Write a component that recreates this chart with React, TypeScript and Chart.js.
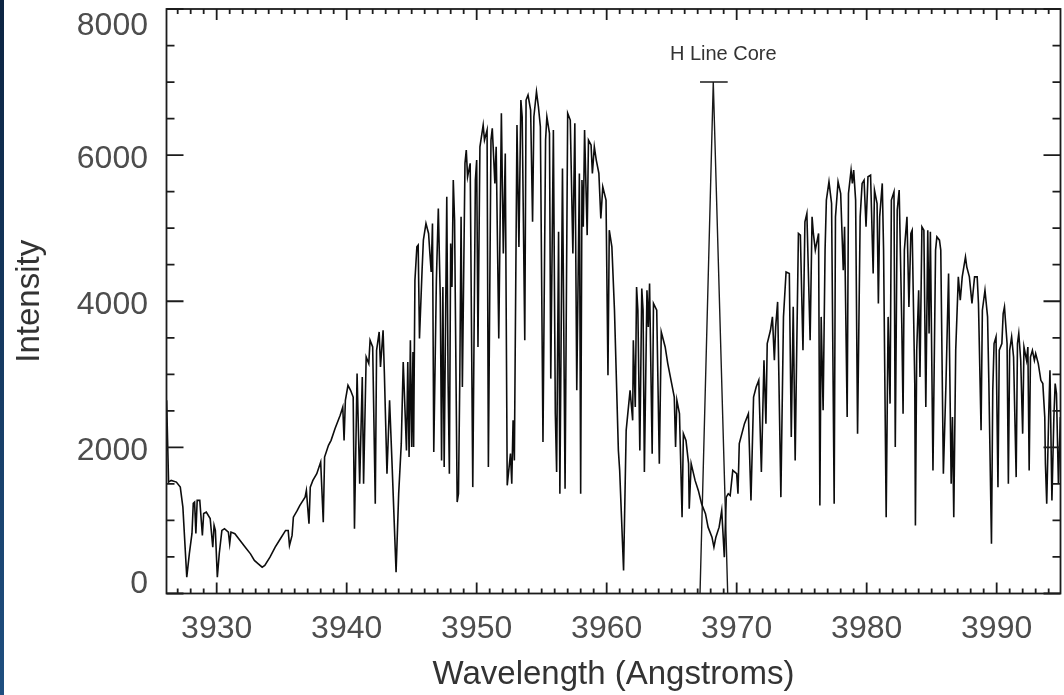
import React, { useEffect, useRef } from "react";
import { Chart, registerables } from "chart.js";

Chart.register(...registerables);

// Wavelength samples (Angstroms)
const wavelength: number[] = [
  3926.15, 3926.3, 3926.5, 3926.9, 3927.2, 3927.4, 3927.7, 3927.9, 3928.1, 3928.2,
  3928.3, 3928.4, 3928.5, 3928.7, 3928.9, 3929.0, 3929.2, 3929.5, 3929.7, 3929.8,
  3929.9, 3930.05, 3930.2, 3930.4, 3930.6, 3930.9, 3931.0, 3931.1, 3931.4, 3931.8,
  3932.2, 3932.6, 3932.9, 3933.2, 3933.5, 3933.7, 3934.1, 3934.5, 3934.9, 3935.3,
  3935.5, 3935.6, 3935.8, 3935.9, 3936.2, 3936.4, 3936.8, 3936.9, 3937.1, 3937.2,
  3937.4, 3937.7, 3938.0, 3938.2, 3938.3, 3938.6, 3938.8, 3939.1, 3939.5, 3939.7,
  3939.8, 3939.9, 3940.1, 3940.3, 3940.5, 3940.6, 3940.8, 3941.0, 3941.2, 3941.3,
  3941.5, 3941.7, 3941.8, 3942.0, 3942.2, 3942.3, 3942.5, 3942.6, 3942.8, 3942.9,
  3943.1, 3943.3, 3943.5, 3943.8, 3944.0, 3944.2,
  3944.35, 3944.6, 3944.7, 3944.8, 3944.9, 3945.0, 3945.1, 3945.15, 3945.25, 3945.4,
  3945.5, 3945.6, 3945.8, 3945.9, 3946.1, 3946.3, 3946.4, 3946.5, 3946.6, 3946.7,
  3946.9, 3947.05, 3947.2, 3947.3, 3947.4, 3947.5, 3947.7, 3947.8, 3947.9, 3948.0,
  3948.1, 3948.2, 3948.3, 3948.5, 3948.6, 3948.7, 3948.8, 3948.9, 3949.1, 3949.2,
  3949.3, 3949.5, 3949.7, 3949.9, 3950.0, 3950.1, 3950.25, 3950.5, 3950.6, 3950.8,
  3950.9, 3951.1, 3951.2, 3951.4, 3951.5, 3951.7, 3951.9, 3952.05, 3952.2, 3952.35,
  3952.6, 3952.7, 3952.8, 3952.9, 3953.1, 3953.25, 3953.4, 3953.5, 3953.7, 3953.8,
  3953.95, 3954.15, 3954.3, 3954.4, 3954.6, 3954.75, 3954.9, 3955.1, 3955.3, 3955.4,
  3955.6, 3955.7, 3955.9, 3956.05, 3956.15, 3956.3, 3956.4, 3956.6, 3956.8, 3957.0,
  3957.2, 3957.4, 3957.55, 3957.7, 3957.9, 3958.0, 3958.1, 3958.2, 3958.3, 3958.5,
  3958.6, 3958.8, 3958.9, 3959.05, 3959.2, 3959.4, 3959.55, 3959.7, 3959.95, 3960.1,
  3960.2, 3960.4,
  3960.6, 3960.9, 3961.0, 3961.3, 3961.5, 3961.8, 3962.0, 3962.05, 3962.2, 3962.3,
  3962.4, 3962.55, 3962.7, 3962.8, 3962.9, 3963.1, 3963.2, 3963.3, 3963.5, 3963.6,
  3963.85, 3964.05, 3964.2, 3964.5, 3964.7, 3965.0, 3965.2, 3965.3, 3965.4, 3965.6,
  3965.8, 3965.9, 3966.1, 3966.3, 3966.35, 3966.5, 3966.8, 3967.05, 3967.3, 3967.6,
  3967.8, 3968.1, 3968.25, 3968.4, 3968.65, 3968.85, 3969.05, 3969.2, 3969.35,
  3969.5, 3969.7, 3970.0, 3970.1, 3970.2, 3970.6, 3970.9, 3971.1, 3971.3, 3971.5,
  3971.7, 3971.9, 3972.1, 3972.25, 3972.35, 3972.6, 3972.75, 3972.9, 3973.0, 3973.15,
  3973.4, 3973.6, 3973.8, 3974.05, 3974.2, 3974.35, 3974.5, 3974.6, 3974.75, 3974.9,
  3975.1, 3975.25, 3975.4, 3975.65, 3975.8, 3975.9, 3976.05, 3976.3, 3976.4, 3976.5,
  3976.65, 3976.8, 3976.9, 3977.1, 3977.3, 3977.5, 3977.6, 3977.8, 3978.0, 3978.2,
  3978.3, 3978.5, 3978.6, 3978.8, 3978.9, 3979.0, 3979.15, 3979.3, 3979.5, 3979.65,
  3979.8, 3979.95, 3980.1, 3980.3, 3980.5, 3980.6, 3980.8, 3980.9, 3981.0, 3981.2,
  3981.3, 3981.5, 3981.65, 3981.8, 3981.9, 3982.1, 3982.2, 3982.35, 3982.5, 3982.7,
  3982.8, 3982.9, 3983.1, 3983.25, 3983.4, 3983.5, 3983.7, 3983.75, 3983.85, 3984.0,
  3984.1, 3984.25, 3984.4, 3984.55, 3984.7, 3984.8, 3984.9, 3985.1, 3985.3, 3985.4,
  3985.6, 3985.7, 3985.9, 3986.1, 3986.3, 3986.5, 3986.6, 3986.7, 3986.85, 3987.05,
  3987.2, 3987.35, 3987.6, 3987.7, 3987.9, 3988.1, 3988.3, 3988.5, 3988.6, 3988.8,
  3988.9, 3989.1, 3989.3, 3989.4, 3989.6, 3989.7, 3989.8, 3989.95, 3990.1, 3990.2,
  3990.4, 3990.5, 3990.6, 3990.8, 3990.9, 3991.0, 3991.15, 3991.3, 3991.5, 3991.6,
  3991.7, 3991.85, 3992.0, 3992.1, 3992.3, 3992.4, 3992.5, 3992.6, 3992.75, 3992.9,
  3993.0, 3993.2, 3993.4, 3993.55, 3993.7, 3993.75, 3993.85, 3994.0, 3994.1, 3994.25,
  3994.4, 3994.5, 3994.6, 3994.75, 3994.9,
];

// Intensity at each wavelength sample
const intensity: number[] = [
  2644, 1525, 1548, 1525, 1456, 1182, 223, 548, 822, 1233,
  1251, 822, 1274, 1274, 795, 1096, 1114, 1027, 634, 932,
  863, 223, 548, 863, 886, 840, 681, 840, 818, 726,
  634, 543, 452, 406, 360, 383, 497, 634, 749, 863,
  863, 658, 795, 1045, 1137, 1206, 1319, 1411, 955, 1456,
  1548, 1640, 1799, 977, 1867, 2028, 2096, 2256, 2439, 2552,
  2096, 2644, 2850, 2781, 2689, 886, 3010, 1503, 2963, 1503,
  3237, 3147, 3466, 3374, 1229, 3329, 3580, 3100, 3603, 3010,
  1640, 2644, 1730, 292, 1366, 2051,
  3169, 1959, 3169, 1867, 3466, 2005, 3306, 2005, 4288, 4744,
  4768, 3489, 4425, 4836, 5065, 4928, 4654, 4402, 5065, 1936,
  4288, 5270, 4059, 1822, 4196, 1730, 5429, 2918, 1640, 4791,
  4196, 5658, 5110, 1251, 1366, 2918, 5155, 2826, 5887, 6069,
  5703, 5887, 1456, 5658, 5932, 3374, 6114, 6412, 6206, 6343,
  1730, 6206, 6366, 5613, 6114, 3489, 6572, 4654, 6023, 1480,
  1914, 1503, 2370, 1822, 6412, 4744, 6754, 6525, 3466, 6754,
  6823, 6617, 5087, 6525, 6868, 6662, 6388, 2073, 6206, 6525,
  6298, 2941, 6343, 2462, 1662, 4950, 1366, 5818, 1434, 6572,
  6480, 4654, 6435, 2781, 5750, 1366, 5658, 5019, 6343, 4905,
  6206, 6138, 5750, 6114, 5932, 5750, 5134, 5566, 5384, 2987,
  4973, 4744,
  3877, 1959, 1685, 315, 2233, 2781, 2370, 3466, 2552, 4196,
  3877, 1959, 4174, 3877, 1662, 4151, 3649, 4243, 1914, 3969,
  3877, 1777, 3580, 3374, 3147, 2873, 2689, 2005, 2644, 2462,
  1045, 2188, 2096, 1777, 1160, 1777, 1548, 1411, 1229, 1092,
  908, 771, 634, 771, 908, 1137, 497, 1319, 1366,
  1340, 1685, 1640, 1366, 2051, 2325, 2462, 1274, 2689, 2826,
  2918, 1662, 3192, 2325, 3421, 3603, 3786, 3192, 3649, 3991,
  1319, 3786, 4402, 4380, 2142, 3923, 1822, 3100, 4928, 4905,
  3329, 5087, 5201, 3466, 5155, 4928, 4700, 4928, 1206, 3786,
  2508, 4700, 5384, 5635, 5338, 1229, 5155, 5635, 5475, 4425,
  5019, 2415, 5475, 5795, 5613, 5795, 5384, 2188, 5155, 5613,
  5658, 5019, 5704, 5727, 4380, 5521, 5338, 3969, 5155, 5613,
  4700, 1045, 3786, 2599, 5384, 5498, 2005, 5247, 5521, 3695,
  2462, 4700, 5155, 3923, 4928, 4973, 2873, 932, 3329, 4151,
  2963, 5019, 4973, 2552, 4973, 3558, 4950, 1685, 4700, 4881,
  4836, 4700, 1640, 2873, 4380, 1503, 2415, 1045, 3329, 4334,
  4014, 4334, 4607, 4471, 4334, 3969, 4334, 4334, 3969, 2233,
  3877, 4151, 3786, 2873, 681, 2781, 3421, 3512, 1456, 3329,
  3421, 3832, 3923, 3421, 1503, 3329, 3512, 3237, 1593, 3421,
  3558, 3192, 2188, 3374, 3192, 3374, 1685, 3237, 3329, 3192,
  3284, 3147, 2918, 2873, 2415, 1777, 1229, 2415, 3055, 1274,
  2415, 2873, 2736, 1503, 2415,
];

// "H Line Core" marker: a peaked line and a cap bar
const hCoreX: number[] = [3967.18, 3968.2, 3969.31];
const hCoreY: number[] = [0, 7000, 0];
const hCapX: number[] = [3967.18, 3969.31];
const hCapY: number[] = [7000, 7000];
const hCoreLabel = "H Line Core";

const xTickValues: number[] = [3930, 3940, 3950, 3960, 3970, 3980, 3990];
const yTickValues: number[] = [0, 2000, 4000, 6000, 8000];

const FONT = "'Liberation Sans', Arial, Helvetica, sans-serif";

const framePlugin = {
  id: "idlFrame",
  beforeDraw(chart: any) {
    const { ctx, height } = chart;
    ctx.save();
    const g = ctx.createLinearGradient(0, 0, 0, height);
    g.addColorStop(0, "#0c2442");
    g.addColorStop(1, "#1f4f80");
    ctx.fillStyle = g;
    ctx.fillRect(0, 0, 4, height);
    ctx.restore();
  },
  afterDraw(chart: any) {
    const { ctx, chartArea, scales } = chart;
    const { left, right, top, bottom } = chartArea;
    const xs = scales.x;
    const ys = scales.y;
    ctx.save();
    ctx.strokeStyle = "#1c1c1c";
    ctx.lineWidth = 1.8;
    ctx.strokeRect(left, top, right - left, bottom - top);
    ctx.beginPath();
    for (let v = Math.ceil(xs.min); v <= xs.max; v++) {
      const px = xs.getPixelForValue(v);
      const len = v % 10 === 0 ? 11 : 5;
      ctx.moveTo(px, bottom);
      ctx.lineTo(px, bottom - len);
      ctx.moveTo(px, top);
      ctx.lineTo(px, top + len);
    }
    for (let v = 0; v <= 8000; v += 500) {
      const py = ys.getPixelForValue(v);
      const len = v % 2000 === 0 ? 17 : 8;
      ctx.moveTo(left, py);
      ctx.lineTo(left + len, py);
      ctx.moveTo(right, py);
      ctx.lineTo(right - len, py);
    }
    ctx.stroke();

    // y tick labels (kept inside the frame's vertical extent like the reference)
    ctx.fillStyle = "#4d4d4d";
    ctx.font = `32px ${FONT}`;
    ctx.textAlign = "right";
    ctx.textBaseline = "middle";
    yTickValues.forEach((v) => {
      let py = ys.getPixelForValue(v) + 4;
      py = Math.max(top + 17, Math.min(bottom - 9, py));
      ctx.fillText(String(v), left - 18.5, py);
    });

    // annotation text
    const cx = xs.getPixelForValue(hCoreX[1]);
    const cy = ys.getPixelForValue(hCapY[0]);
    ctx.fillStyle = "#333333";
    ctx.font = `20px ${FONT}`;
    ctx.textAlign = "center";
    ctx.fillText(hCoreLabel, cx + 10, cy - 28);
    ctx.restore();
  },
};

export default function App() {
  const ref = useRef<HTMLCanvasElement | null>(null);

  useEffect(() => {
    if (!ref.current) return;
    const spectrum = wavelength.map((w, i) => ({ x: w, y: intensity[i] }));
    const core = hCoreX.map((w, i) => ({ x: w, y: hCoreY[i] }));
    const cap = hCapX.map((w, i) => ({ x: w, y: hCapY[i] }));
    const chart = new Chart(ref.current, {
      type: "line",
      data: {
        datasets: [
          {
            label: "Spectrum",
            data: spectrum,
            borderColor: "#0d0d0d",
            borderWidth: 1.6,
            pointRadius: 0,
            tension: 0,
            fill: false,
          },
          {
            label: "H Line Core",
            data: core,
            borderColor: "#1a1a1a",
            borderWidth: 1.4,
            pointRadius: 0,
            tension: 0,
            fill: false,
          },
          {
            label: "H Line Core cap",
            data: cap,
            borderColor: "#1a1a1a",
            borderWidth: 1.6,
            pointRadius: 0,
            tension: 0,
            fill: false,
          },
        ],
      },
      plugins: [framePlugin],
      options: {
        animation: false,
        responsive: false,
        devicePixelRatio: 1,
        layout: { padding: { left: 0, top: 9, right: 3.5, bottom: 0 } },
        plugins: {
          legend: { display: false },
          tooltip: { enabled: false },
        },
        scales: {
          x: {
            type: "linear",
            min: 3926.14,
            max: 3994.91,
            grid: { display: false, drawTicks: false },
            border: { display: false },
            afterBuildTicks: (scale: any) => {
              scale.ticks = xTickValues.map((v) => ({ value: v }));
            },
            afterFit: (scale: any) => {
              scale.height = 101.5;
            },
            ticks: {
              autoSkip: false,
              maxRotation: 0,
              minRotation: 0,
              padding: 16,
              color: "#4d4d4d",
              font: { family: FONT, size: 32 },
              callback: (v: any) => String(v),
            },
            title: {
              display: true,
              text: "Wavelength (Angstroms)",
              color: "#333333",
              font: { family: FONT, size: 33 },
              padding: { top: 0, bottom: 0 },
            },
          },
          y: {
            type: "linear",
            min: 0,
            max: 8000,
            grid: { display: false, drawTicks: false },
            border: { display: false },
            afterFit: (scale: any) => {
              scale.width = 166.5;
            },
            ticks: { display: false },
            title: {
              display: true,
              text: "Intensity",
              color: "#333333",
              font: { family: FONT, size: 33 },
              padding: { top: 10, bottom: 0 },
            },
          },
        },
      },
    });
    return () => chart.destroy();
  }, []);

  return (
    <div style={{ position: "absolute", left: 0, top: 0, width: 1064, height: 695, background: "#ffffff" }}>
      <canvas ref={ref} width={1064} height={695} style={{ width: 1064, height: 695, display: "block" }} />
    </div>
  );
}
